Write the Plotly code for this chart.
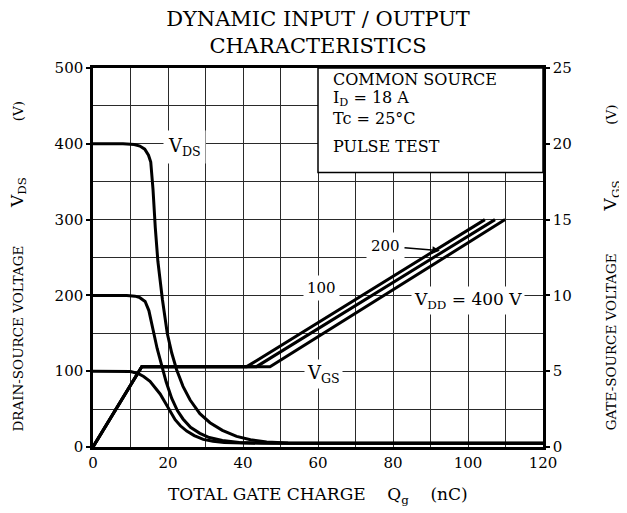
import plotly.graph_objects as go

# ---------------- data ----------------
# Drain-source voltage curves (left axis, V) vs total gate charge (nC)
vds100_q = [0, 8, 10, 12, 13.5, 15.2, 16.5, 17.9, 19.2, 20.5, 21.9, 23.3, 25, 27, 29.4, 32, 35, 40, 48, 120]
vds100_v = [100, 100, 99.5, 97, 93, 86.5, 79, 70, 59, 47, 36, 28, 21, 15, 10, 7.5, 6, 5.2, 5, 5]

vds200_q = [0, 9, 11.2, 12.5, 13.9, 14.9, 16.0, 17.1, 18.3, 19.5, 21, 22.5, 24, 26, 28.5, 31, 34.5, 39, 45, 55, 120]
vds200_v = [200, 200, 199, 197, 192, 180, 155, 130, 108, 86, 64, 48, 37, 26, 18, 12.5, 8.5, 6, 5.2, 5, 5]

vds400_q = [0, 8, 11, 12.5, 13.8, 14.8, 15.4, 16.0, 16.6, 17.3, 18.5, 19.8, 21, 22.3, 24, 25.9, 28.5, 31.2, 34.5, 38.3, 42, 46.3, 52, 60, 120]
vds400_v = [400, 400, 399, 397, 393, 385, 376, 340, 290, 245, 195, 150, 124, 102, 80, 62, 44, 32, 22, 14, 9.5, 6.5, 5.2, 5, 5]

# Gate-source voltage curves (right axis, V)
vgs_v = [0, 5.3, 5.3, 15]
vgs100_q = [0, 13.0, 41.0, 104.5]
vgs200_q = [0, 13.0, 43.6, 107.2]
vgs400_q = [0, 13.0, 47.2, 109.9]

x_ticks = [0, 20, 40, 60, 80, 100, 120]
y_ticks = [0, 100, 200, 300, 400, 500]
y2_ticks = [0, 5, 10, 15, 20, 25]

FONT = "DejaVu Serif"
LW = 3

fig = go.Figure()
for q, v in [(vds100_q, vds100_v), (vds200_q, vds200_v), (vds400_q, vds400_v)]:
    fig.add_trace(go.Scatter(x=q, y=v, mode="lines", line=dict(color="black", width=LW),
                             hoverinfo="skip", showlegend=False))
for q in [vgs100_q, vgs200_q, vgs400_q]:
    fig.add_trace(go.Scatter(x=q, y=vgs_v, mode="lines", yaxis="y2",
                             line=dict(color="black", width=LW),
                             hoverinfo="skip", showlegend=False))

grid = "#2a2a2a"
fig.update_layout(
    width=627, height=513,
    margin=dict(l=85, r=92, t=59.5, b=73.5),
    paper_bgcolor="white", plot_bgcolor="white",
    font=dict(family=FONT, color="black", size=15),
    showlegend=False,
    title=dict(text="DYNAMIC INPUT / OUTPUT<br>CHARACTERISTICS",
               x=0.5, xref="paper", xanchor="center", y=1 - 18 / 513, yanchor="middle",
               font=dict(family=FONT, size=21, color="black")),
    xaxis=dict(range=[0, 120], tickvals=x_ticks, ticktext=[str(t) for t in x_ticks],
               showgrid=True, gridcolor=grid, gridwidth=1,
               minor=dict(dtick=10, tick0=0, showgrid=True, gridcolor=grid, gridwidth=1),
               showline=True, linecolor="black", linewidth=2.5, mirror=True,
               zeroline=False, ticks="", tickfont=dict(family=FONT, size=15)),
    yaxis=dict(range=[0, 500], tickvals=y_ticks, ticktext=[str(t) for t in y_ticks],
               showgrid=True, gridcolor=grid, gridwidth=1,
               minor=dict(dtick=50, tick0=0, showgrid=True, gridcolor=grid, gridwidth=1),
               showline=True, linecolor="black", linewidth=2.5, mirror=True,
               zeroline=False, ticks="outside", ticklen=4, tickwidth=1.5, tickcolor="black",
               tickfont=dict(family=FONT, size=15)),
    yaxis2=dict(range=[0, 25], tickvals=y2_ticks, ticktext=[str(t) for t in y2_ticks],
                overlaying="y", side="right", showgrid=False, zeroline=False,
                showline=True, linecolor="black", linewidth=2.5,
                ticks="outside", ticklen=4, tickwidth=1.5, tickcolor="black",
                tickfont=dict(family=FONT, size=15)),
)

# info box
fig.add_shape(type="rect", xref="x", yref="y", x0=60, x1=120, y0=362, y1=500,
              fillcolor="white", line=dict(color="black", width=1.5), layer="above")

def label(x, y, text, size=15, bg="white", pad=4, xanchor="center"):
    fig.add_annotation(x=x, y=y, xref="x", yref="y", text=text, showarrow=False,
                       font=dict(family=FONT, size=size, color="black"),
                       bgcolor=bg, borderpad=pad, xanchor=xanchor, yanchor="middle")

NB = "\u00a0"
label(63.7, 485, "COMMON" + NB + "SOURCE", size=16, bg=None, pad=0, xanchor="left")
label(63.7, 460, "I<sub>D</sub> = 18 A", size=16, bg=None, pad=0, xanchor="left")
label(63.7, 434, "Tc = 25°C", size=16, bg=None, pad=0, xanchor="left")
label(63.7, 397, "PULSE TEST", size=16, bg=None, pad=0, xanchor="left")

label(24.5, 396, "V<sub>DS</sub>", size=18, pad=4)
label(61.5, 96, "V<sub>GS</sub>", size=18, pad=2)
label(61.0, 210, "100", size=15, pad=3)
label(100.0, 193, "V<sub>DD</sub> = 400 V", size=17, pad=2)

# "200" label with arrow to the middle V_GS line
fig.add_annotation(x=92.5, y=259, xref="x", yref="y", ax=78, ay=265, axref="x", ayref="y",
                   text="200", showarrow=True, arrowhead=2, arrowsize=1, arrowwidth=1.5,
                   arrowcolor="black", font=dict(family=FONT, size=15, color="black"),
                   bgcolor="white", borderpad=4)

# axis titles
BIG = "<span style='font-size:17px'>V<sub>{}</sub></span>"
fig.add_annotation(x=-0.165, y=0.478, xref="paper", yref="paper", textangle=-90,
                   xanchor="center", yanchor="middle",
                   text="DRAIN-SOURCE VOLTAGE" + NB * 9 + BIG.format("DS") + NB * 13 + "(V)",
                   showarrow=False, font=dict(family=FONT, size=13.5, color="black"))
fig.add_annotation(x=1.153, y=0.474, xref="paper", yref="paper", textangle=-90,
                   xanchor="center", yanchor="middle",
                   text="GATE-SOURCE VOLTAGE" + NB * 10 + BIG.format("GS") + NB * 13 + "(V)",
                   showarrow=False, font=dict(family=FONT, size=13.5, color="black"))
fig.add_annotation(x=0.5, y=-0.128, xref="paper", yref="paper",
                   xanchor="center", yanchor="middle",
                   text="TOTAL GATE CHARGE" + NB * 4 + "Q<sub>g</sub>" + NB * 4 + "(nC)",
                   showarrow=False, font=dict(family=FONT, size=17, color="black"))

fig.write_html("out.html")
